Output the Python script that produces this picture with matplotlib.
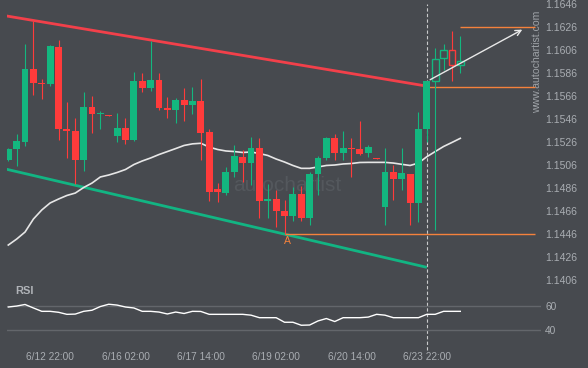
import numpy as np
import matplotlib
matplotlib.use("Agg")
import matplotlib.pyplot as plt
from matplotlib.transforms import blended_transform_factory

plt.rcParams['font.family'] = ['Liberation Sans', 'DejaVu Sans']

# 4h candles, EUR/USD style prices
opens = [1.15104, 1.15199, 1.15263, 1.15895, 1.15773, 1.15764, 1.16086, 1.15376, 1.15356, 1.15104,
         1.15564, 1.15503, 1.15495, 1.15315, 1.15384, 1.15277, 1.15793, 1.15732, 1.15799, 1.15556,
         1.15538, 1.15625, 1.15582, 1.15617, 1.15347, 1.14851, 1.14814, 1.15002, 1.15130, 1.15080,
         1.15205, 1.14750, 1.14764, 1.14660, 1.14617, 1.14808, 1.14602, 1.14982, 1.15123, 1.15295,
         1.15167, 1.15208, 1.15197, 1.15167, 1.15121, 1.14697, 1.14999, 1.14938, 1.14982, 1.14732,
         1.15373, 1.15790, 1.15988, 1.16060, 1.15927]
highs = [1.15208, 1.15330, 1.16110, 1.16315, 1.15808, 1.16100, 1.16144, 1.15605, 1.15466, 1.15692,
         1.15660, 1.15530, 1.15495, 1.15510, 1.15466, 1.15866, 1.15857, 1.16141, 1.15857, 1.15654,
         1.15640, 1.15727, 1.15736, 1.15805, 1.15373, 1.14901, 1.15045, 1.15234, 1.15190, 1.15301,
         1.15292, 1.14895, 1.14843, 1.14756, 1.14869, 1.14877, 1.15002, 1.15138, 1.15306, 1.15327,
         1.15356, 1.15295, 1.15443, 1.15238, 1.15121, 1.15205, 1.15060, 1.15205, 1.14982, 1.15518,
         1.15790, 1.16080, 1.16110, 1.16225, 1.16182]
lows = [1.15095, 1.15054, 1.15228, 1.15669, 1.15631, 1.15750, 1.15277, 1.15118, 1.14895, 1.15010,
        1.15336, 1.15376, 1.15489, 1.15263, 1.15240, 1.15271, 1.15692, 1.15706, 1.15538, 1.15466,
        1.15423, 1.15443, 1.15501, 1.15104, 1.14747, 1.14741, 1.14799, 1.14958, 1.14915, 1.14886,
        1.14597, 1.14603, 1.14521, 1.14460, 1.14569, 1.14569, 1.14538, 1.14799, 1.15104, 1.15104,
        1.15104, 1.14953, 1.15147, 1.15132, 1.15112, 1.14538, 1.14756, 1.14843, 1.14538, 1.14567,
        1.15260, 1.14495, 1.15886, 1.15793, 1.15857]
closes = [1.15199, 1.15269, 1.15895, 1.15776, 1.15767, 1.16095, 1.15376, 1.15358, 1.15104, 1.15564,
          1.15503, 1.15512, 1.15489, 1.15384, 1.15277, 1.15793, 1.15732, 1.15799, 1.15558, 1.15538,
          1.15625, 1.15582, 1.15617, 1.15341, 1.14828, 1.14823, 1.15002, 1.15138, 1.15080, 1.15205,
          1.14750, 1.14764, 1.14660, 1.14619, 1.14808, 1.14602, 1.14982, 1.15118, 1.15295, 1.15167,
          1.15210, 1.15199, 1.15156, 1.15216, 1.15112, 1.14999, 1.14938, 1.14988, 1.14732, 1.15373,
          1.15790, 1.15979, 1.16060, 1.15927, 1.15964]
hollow_from = 51  # candles after the breakout are drawn as outlines

ma = [1.14364, 1.14416, 1.14477, 1.14590, 1.14669, 1.14730, 1.14764, 1.14795, 1.14816, 1.14864,
      1.14903, 1.14956, 1.14973, 1.14995, 1.15021, 1.15064, 1.15095, 1.15121, 1.15151, 1.15177,
      1.15203, 1.15230, 1.15244, 1.15249, 1.15216, 1.15195, 1.15182, 1.15177, 1.15169, 1.15173,
      1.15160, 1.15143, 1.15112, 1.15086, 1.15056, 1.15031, 1.15031, 1.15043, 1.15056, 1.15060,
      1.15069, 1.15073, 1.15082, 1.15083, 1.15083, 1.15083, 1.15077, 1.15066, 1.15056, 1.15077,
      1.15132, 1.15177, 1.15221, 1.15256, 1.15292]

rsi = [59.4, 60.2, 61.5, 58.6, 55.8, 55.8, 55.0, 53.3, 53.5, 55.8,
       56.7, 59.8, 61.7, 61.0, 59.4, 58.6, 55.8, 55.8, 55.2, 53.6,
       55.2, 54.0, 55.8, 55.7, 53.3, 53.3, 53.3, 53.3, 53.3, 52.6,
       50.5, 50.5, 50.5, 46.7, 46.7, 44.2, 44.4, 47.8, 49.8, 47.3,
       50.5, 50.5, 50.5, 51.0, 53.3, 52.6, 50.5, 50.5, 50.5, 50.5,
       53.3, 53.3, 55.8, 55.8, 55.8]

price_ticks = [1.1406, 1.1426, 1.1446, 1.1466, 1.1486, 1.1506, 1.1526,
               1.1546, 1.1566, 1.1586, 1.1606, 1.1626, 1.1646]
rsi_ticks = [40, 60]
date_idx = [5, 14, 23, 32, 41, 50]
date_labels = ['6/12 22:00', '6/16 02:00', '6/17 14:00', '6/19 02:00', '6/20 14:00', '6/23 22:00']

# pattern
upper_x = [-0.2, 50]
upper_y = [1.16356, 1.15746]
lower_x = [-0.2, 50]
lower_y = [1.15023, 1.14170]
breakout_idx = 50
resist_level = 1.15741
support_level = 1.1446
point_a_idx = 33
target_level = 1.1626
target_idx = 54
level_end = 62.9
arrow_from = (50.1, 1.1579)
arrow_to = (61.7, 1.16249)

BG = '#474a4f'
GREEN = '#13b77f'
RED = '#ff3b3b'
ORANGE = '#f5823c'
TXT = '#a9adb2'

W, H = 588, 368
fig = plt.figure(figsize=(W / 100, H / 100), dpi=100, facecolor=BG)
left, right = 6.7, 541
ax = fig.add_axes([left / W, (H - 290) / H, (right - left) / W, 290 / H])
rx = fig.add_axes([left / W, (H - 345) / H, (right - left) / W, 53 / H])
for a in (ax, rx):
    a.set_facecolor('none')
    for s in a.spines.values():
        s.set_visible(False)

# watermark
ax.text(0.525, 0.362, 'autochartist', transform=ax.transAxes, fontsize=15,
        color='#54585d', ha='center', va='center', zorder=0)
ax.text(0.9925, 0.786, 'www.autochartist.com', transform=ax.transAxes, fontsize=7.6,
        color='#9ea2a7', rotation=90, ha='center', va='center', zorder=1)

# channel
ax.plot(upper_x, upper_y, color='#f2404a', lw=2, solid_capstyle='butt', zorder=2)
ax.plot(lower_x, lower_y, color='#12b583', lw=2, solid_capstyle='butt', zorder=2)

# levels
ax.hlines(resist_level, breakout_idx, level_end, color=ORANGE, lw=1, zorder=2)
ax.hlines(support_level, point_a_idx, level_end, color=ORANGE, lw=1, zorder=2)
ax.hlines(target_level, target_idx, level_end, color=ORANGE, lw=1, zorder=2)
ax.text(point_a_idx + 0.3, 1.14399, 'A', color=ORANGE, fontsize=7.5, ha='center', va='center')

# breakout marker
trans = blended_transform_factory(ax.transData, ax.transAxes)
ax.plot([breakout_idx, breakout_idx], [-0.207, 0.986], transform=trans, clip_on=False,
        color='#c9cacc', lw=0.8, ls=(0, (3, 2)), zorder=1)

# moving average
x = np.arange(len(closes))
ax.plot(x, ma, color='#e6e6e6', lw=1.2, zorder=3)

# candles
for i in range(len(closes)):
    o, h, l, c = opens[i], highs[i], lows[i], closes[i]
    col = GREEN if c >= o else RED
    lo, hi = min(o, c), max(o, c)
    body = max(hi - lo, 0.00009)
    if i < hollow_from:
        ax.vlines(i, l, h, color=col, lw=0.8, zorder=4)
        ax.bar(i, body, bottom=lo, width=0.82, color=col, zorder=5)
    else:
        ax.vlines(i, hi, h, color=col, lw=0.8, zorder=4)
        ax.vlines(i, l, lo, color=col, lw=0.8, zorder=4)
        ax.bar(i, body, bottom=lo, width=0.82, fill=False, edgecolor=col, lw=1, zorder=5)

ax.annotate('', xy=arrow_to, xytext=arrow_from,
            arrowprops=dict(arrowstyle='->', color='#e8e8e8', lw=1, mutation_scale=10), zorder=6)

ax.set_xlim(-0.19, 63.64)
ax.set_ylim(1.13973, 1.16495)
ax.set_xticks([])
ax.yaxis.tick_right()
ax.set_yticks(price_ticks)
ax.set_yticklabels(['%.4f' % p for p in price_ticks])
ax.tick_params(axis='y', length=0, pad=3, labelsize=7.5, labelcolor=TXT)

# RSI panel
for v in rsi_ticks:
    rx.axhline(v, color='#63666b', lw=1, zorder=1)
rx.plot(x, rsi, color='white', lw=1, zorder=3)
rx.set_xlim(-0.19, 63.64)
rx.set_ylim(27.75, 71.9)
rx.yaxis.tick_right()
rx.set_yticks(rsi_ticks)
rx.set_xticks(date_idx)
rx.set_xticklabels(date_labels)
rx.tick_params(axis='both', length=0, labelsize=7.3, labelcolor=TXT)
rx.tick_params(axis='y', pad=3)
rx.tick_params(axis='x', pad=5)
fig.text(15 / W, 1 - 291 / H, 'RSI', fontsize=8, fontweight='bold', color='#b0b3b8', va='center')

fig.savefig('out.png', dpi=100, facecolor=BG)
